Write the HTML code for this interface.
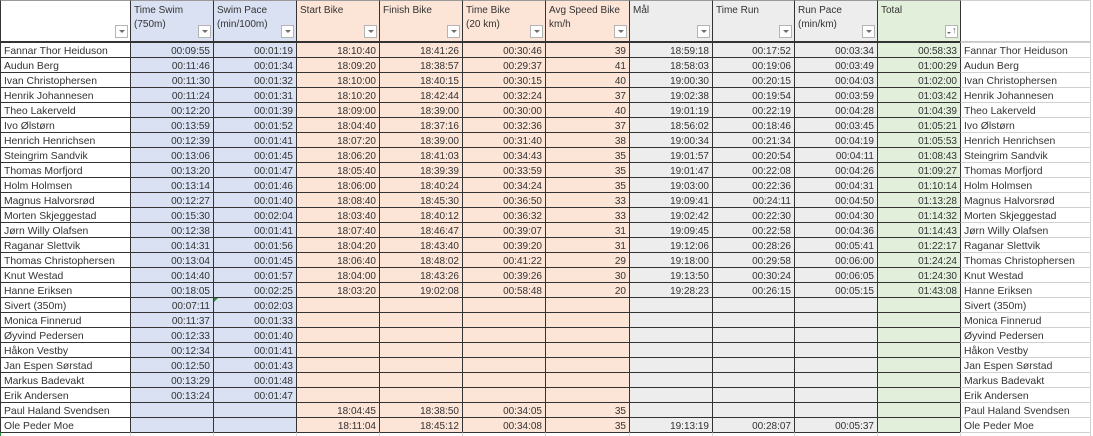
<!DOCTYPE html>
<html><head><meta charset="utf-8">
<style>
*{margin:0;padding:0}
body{width:1093px;height:436px;overflow:hidden;background:#fff;font-family:"Liberation Sans",sans-serif;font-size:10px;color:#333;position:relative}
.h{position:absolute;left:0;top:0;display:flex;height:42px;width:1093px}
.h i{font-style:normal;box-sizing:border-box;height:42px;border-top:1px solid #9a9a9a;border-left:1px solid #333;border-bottom:1px solid #333;padding:2.5px 3px 0;line-height:14px;position:relative;white-space:nowrap}
.t{position:absolute;left:0;top:42px;width:1093px}
.r{display:flex;height:15px}
.r i{font-style:normal;box-sizing:border-box;height:15px;border-top:1px solid #333;border-left:1px solid #333;padding:1px 3px 0;line-height:15px;white-space:nowrap;text-align:right;position:relative}
.h i:nth-child(1),.r i:nth-child(1){width:130px;text-align:left;background:#fff}
.r i:nth-child(1),.r i:nth-child(12){font-size:10.4px}
.h i:nth-child(2),.r i:nth-child(2),.h i:nth-child(3),.r i:nth-child(3){width:83px;background:#d9e1f2}
.h i:nth-child(4),.r i:nth-child(4),.h i:nth-child(5),.r i:nth-child(5),.h i:nth-child(6),.r i:nth-child(6){width:83px;background:#fce4d6}
.h i:nth-child(7),.r i:nth-child(7){width:84px;background:#fce4d6}
.h i:nth-child(8),.r i:nth-child(8),.h i:nth-child(10),.r i:nth-child(10){width:83px;background:#ededed}
.h i:nth-child(9),.r i:nth-child(9){width:82px;background:#ededed}
.h i:nth-child(11),.r i:nth-child(11){width:83px;background:#e2efda}
.h i:nth-child(12),.r i:nth-child(12){width:131px;background:#fff;text-align:left;border-right:1px solid #d0d0d0}
.r i:nth-child(12){border-top-color:#d0d0d0}
.h i:nth-child(12){border-top-color:#d0d0d0;border-bottom-color:#c8c8c8}
.btn{position:absolute;right:2px;top:24px;width:13px;height:13px;box-sizing:border-box;border:1px solid #b4b4b4;background:#fff}
.btn:after{content:"";position:absolute;left:3px;top:4px;border-left:3px solid transparent;border-right:3px solid transparent;border-top:3px solid #6e6e6e}
.srt:after{left:1px;top:6px;border-left:2px solid transparent;border-right:2px solid transparent;border-top:2px solid #6e6e6e}
.srt b{position:absolute;left:6px;top:-2px;font-weight:normal;font-size:9px;line-height:12px;color:#555}
.end{display:flex;height:4px}
.end i{font-style:normal;box-sizing:border-box;height:4px;border-top:1px solid #333;border-left:1px solid #d6d6d6}
.gt{position:absolute;left:0;top:0;border-top:4px solid #2e8b3e;border-right:4px solid transparent}
</style></head><body>
<div class="h">
<i><span class="btn"></span></i>
<i>Time Swim<br>(750m)<span class="btn"></span></i>
<i>Swim Pace<br>(min/100m)<span class="btn"></span></i>
<i>Start Bike<span class="btn"></span></i>
<i>Finish Bike<span class="btn"></span></i>
<i>Time Bike<br>(20 km)<span class="btn"></span></i>
<i>Avg Speed Bike<br>km/h<span class="btn"></span></i>
<i>Mål<span class="btn"></span></i>
<i>Time Run<span class="btn"></span></i>
<i>Run Pace<br>(min/km)<span class="btn"></span></i>
<i>Total<span class="btn srt"><b>↑</b></span></i>
<i></i>
</div>
<div class="t">
<div class="r"><i>Fannar Thor Heiduson</i><i>00:09:55</i><i>00:01:19</i><i>18:10:40</i><i>18:41:26</i><i>00:30:46</i><i>39</i><i>18:59:18</i><i>00:17:52</i><i>00:03:34</i><i>00:58:33</i><i>Fannar Thor Heiduson</i></div>
<div class="r"><i>Audun Berg</i><i>00:11:46</i><i>00:01:34</i><i>18:09:20</i><i>18:38:57</i><i>00:29:37</i><i>41</i><i>18:58:03</i><i>00:19:06</i><i>00:03:49</i><i>01:00:29</i><i>Audun Berg</i></div>
<div class="r"><i>Ivan Christophersen</i><i>00:11:30</i><i>00:01:32</i><i>18:10:00</i><i>18:40:15</i><i>00:30:15</i><i>40</i><i>19:00:30</i><i>00:20:15</i><i>00:04:03</i><i>01:02:00</i><i>Ivan Christophersen</i></div>
<div class="r"><i>Henrik Johannesen</i><i>00:11:24</i><i>00:01:31</i><i>18:10:20</i><i>18:42:44</i><i>00:32:24</i><i>37</i><i>19:02:38</i><i>00:19:54</i><i>00:03:59</i><i>01:03:42</i><i>Henrik Johannesen</i></div>
<div class="r"><i>Theo Lakerveld</i><i>00:12:20</i><i>00:01:39</i><i>18:09:00</i><i>18:39:00</i><i>00:30:00</i><i>40</i><i>19:01:19</i><i>00:22:19</i><i>00:04:28</i><i>01:04:39</i><i>Theo Lakerveld</i></div>
<div class="r"><i>Ivo Ølstørn</i><i>00:13:59</i><i>00:01:52</i><i>18:04:40</i><i>18:37:16</i><i>00:32:36</i><i>37</i><i>18:56:02</i><i>00:18:46</i><i>00:03:45</i><i>01:05:21</i><i>Ivo Ølstørn</i></div>
<div class="r"><i>Henrich Henrichsen</i><i>00:12:39</i><i>00:01:41</i><i>18:07:20</i><i>18:39:00</i><i>00:31:40</i><i>38</i><i>19:00:34</i><i>00:21:34</i><i>00:04:19</i><i>01:05:53</i><i>Henrich Henrichsen</i></div>
<div class="r"><i>Steingrim Sandvik</i><i>00:13:06</i><i>00:01:45</i><i>18:06:20</i><i>18:41:03</i><i>00:34:43</i><i>35</i><i>19:01:57</i><i>00:20:54</i><i>00:04:11</i><i>01:08:43</i><i>Steingrim Sandvik</i></div>
<div class="r"><i>Thomas Morfjord</i><i>00:13:20</i><i>00:01:47</i><i>18:05:40</i><i>18:39:39</i><i>00:33:59</i><i>35</i><i>19:01:47</i><i>00:22:08</i><i>00:04:26</i><i>01:09:27</i><i>Thomas Morfjord</i></div>
<div class="r"><i>Holm Holmsen</i><i>00:13:14</i><i>00:01:46</i><i>18:06:00</i><i>18:40:24</i><i>00:34:24</i><i>35</i><i>19:03:00</i><i>00:22:36</i><i>00:04:31</i><i>01:10:14</i><i>Holm Holmsen</i></div>
<div class="r"><i>Magnus Halvorsrød</i><i>00:12:27</i><i>00:01:40</i><i>18:08:40</i><i>18:45:30</i><i>00:36:50</i><i>33</i><i>19:09:41</i><i>00:24:11</i><i>00:04:50</i><i>01:13:28</i><i>Magnus Halvorsrød</i></div>
<div class="r"><i>Morten Skjeggestad</i><i>00:15:30</i><i>00:02:04</i><i>18:03:40</i><i>18:40:12</i><i>00:36:32</i><i>33</i><i>19:02:42</i><i>00:22:30</i><i>00:04:30</i><i>01:14:32</i><i>Morten Skjeggestad</i></div>
<div class="r"><i>Jørn Willy Olafsen</i><i>00:12:38</i><i>00:01:41</i><i>18:07:40</i><i>18:46:47</i><i>00:39:07</i><i>31</i><i>19:09:45</i><i>00:22:58</i><i>00:04:36</i><i>01:14:43</i><i>Jørn Willy Olafsen</i></div>
<div class="r"><i>Raganar Slettvik</i><i>00:14:31</i><i>00:01:56</i><i>18:04:20</i><i>18:43:40</i><i>00:39:20</i><i>31</i><i>19:12:06</i><i>00:28:26</i><i>00:05:41</i><i>01:22:17</i><i>Raganar Slettvik</i></div>
<div class="r"><i>Thomas Christophersen</i><i>00:13:04</i><i>00:01:45</i><i>18:06:40</i><i>18:48:02</i><i>00:41:22</i><i>29</i><i>19:18:00</i><i>00:29:58</i><i>00:06:00</i><i>01:24:24</i><i>Thomas Christophersen</i></div>
<div class="r"><i>Knut Westad</i><i>00:14:40</i><i>00:01:57</i><i>18:04:00</i><i>18:43:26</i><i>00:39:26</i><i>30</i><i>19:13:50</i><i>00:30:24</i><i>00:06:05</i><i>01:24:30</i><i>Knut Westad</i></div>
<div class="r"><i>Hanne Eriksen</i><i>00:18:05</i><i>00:02:25</i><i>18:03:20</i><i>19:02:08</i><i>00:58:48</i><i>20</i><i>19:28:23</i><i>00:26:15</i><i>00:05:15</i><i>01:43:08</i><i>Hanne Eriksen</i></div>
<div class="r"><i>Sivert (350m)</i><i>00:07:11</i><i><span class="gt"></span>00:02:03</i><i></i><i></i><i></i><i></i><i></i><i></i><i></i><i></i><i>Sivert (350m)</i></div>
<div class="r"><i>Monica Finnerud</i><i>00:11:37</i><i>00:01:33</i><i></i><i></i><i></i><i></i><i></i><i></i><i></i><i></i><i>Monica Finnerud</i></div>
<div class="r"><i>Øyvind Pedersen</i><i>00:12:33</i><i>00:01:40</i><i></i><i></i><i></i><i></i><i></i><i></i><i></i><i></i><i>Øyvind Pedersen</i></div>
<div class="r"><i>Håkon Vestby</i><i>00:12:34</i><i>00:01:41</i><i></i><i></i><i></i><i></i><i></i><i></i><i></i><i></i><i>Håkon Vestby</i></div>
<div class="r"><i>Jan Espen Sørstad</i><i>00:12:50</i><i>00:01:43</i><i></i><i></i><i></i><i></i><i></i><i></i><i></i><i></i><i>Jan Espen Sørstad</i></div>
<div class="r"><i>Markus Badevakt</i><i>00:13:29</i><i>00:01:48</i><i></i><i></i><i></i><i></i><i></i><i></i><i></i><i></i><i>Markus Badevakt</i></div>
<div class="r"><i>Erik Andersen</i><i>00:13:24</i><i>00:01:47</i><i></i><i></i><i></i><i></i><i></i><i></i><i></i><i></i><i>Erik Andersen</i></div>
<div class="r"><i>Paul Haland Svendsen</i><i></i><i></i><i>18:04:45</i><i>18:38:50</i><i>00:34:05</i><i>35</i><i></i><i></i><i></i><i></i><i>Paul Haland Svendsen</i></div>
<div class="r"><i>Ole Peder Moe</i><i></i><i></i><i>18:11:04</i><i>18:45:12</i><i>00:34:08</i><i>35</i><i>19:13:19</i><i>00:28:07</i><i>00:05:37</i><i></i><i>Ole Peder Moe</i></div>
<div class="end"><i style="width:130px;border-left-color:#2e8b3e"></i><i style="width:83px"></i><i style="width:83px"></i><i style="width:83px"></i><i style="width:83px"></i><i style="width:83px"></i><i style="width:84px"></i><i style="width:83px"></i><i style="width:82px"></i><i style="width:83px"></i><i style="width:83px"></i><i style="width:131px;border-top-color:#d0d0d0;border-right:1px solid #d0d0d0"></i></div>
</div>
</body></html>
